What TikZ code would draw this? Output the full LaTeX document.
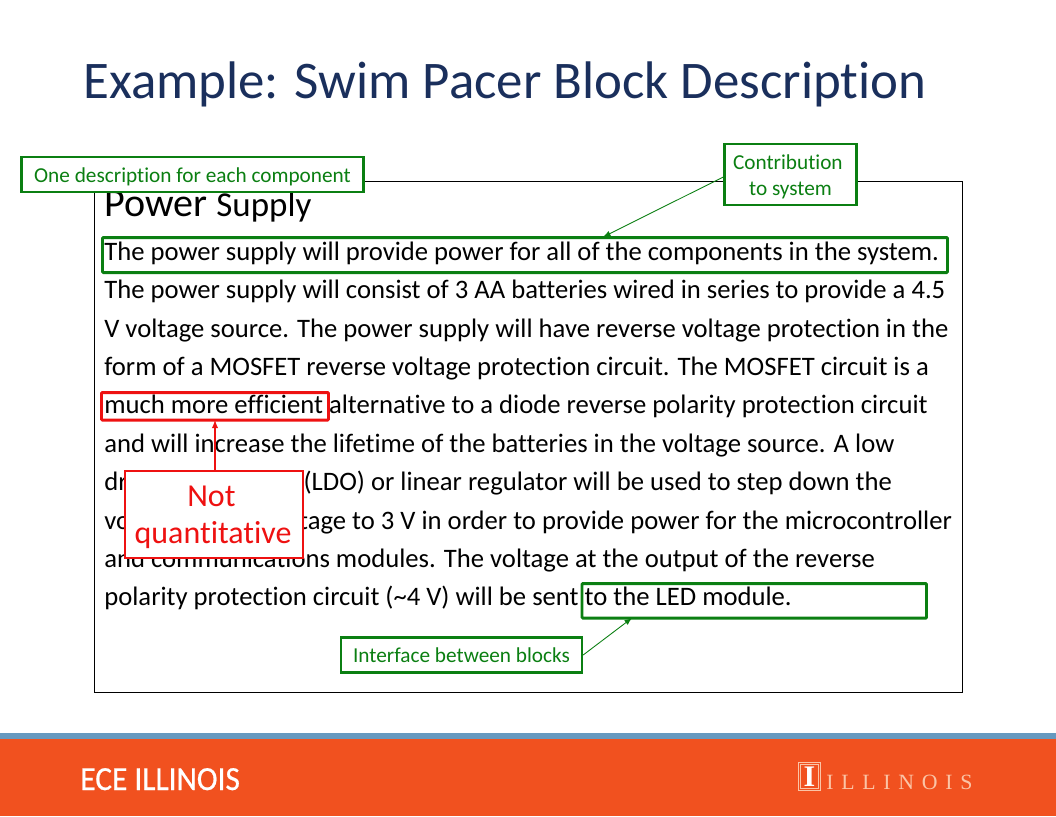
\documentclass[tikz,border=0pt]{standalone}
\usepackage{fontspec}
\usepackage{xcolor}
\setmainfont[Ligatures=CommonOff]{Carlito}
\newfontfamily\serifname[LetterSpace=35.5]{Liberation Serif}
\newfontfamily\serifmark{Liberation Serif}
\newfontfamily\logofont[FakeStretch=0.93,FakeBold=0.6]{Carlito}
\definecolor{titleblue}{HTML}{1A2F5C}
\definecolor{notegreen}{HTML}{0B7F12}
\definecolor{notered}{HTML}{EE1111}
\definecolor{barblue}{HTML}{6699BF}
\definecolor{barorange}{HTML}{F1511F}
\definecolor{markpeach}{HTML}{FBC4A6}
\newcommand{\nudgedown}[1]{\raisebox{-1.6pt}[\height][\depth]{#1}}
\tikzset{
  bodyline/.style={anchor=base west,inner sep=0pt,font=\fontsize{15.17}{18}\selectfont},
  greennote/.style={draw=notegreen,line width=1.3pt,fill=white,text=notegreen,inner sep=0pt,align=center,font=\fontsize{12.1}{14.8}\selectfont},
  rednote/.style={draw=notered,line width=1.3pt,fill=white,text=notered,inner sep=0pt,align=center,font=\fontsize{18.2}{21.3}\selectfont},
  greenmark/.style={draw=notegreen,line width=1.7pt,rounded corners=0.5pt},
  redmark/.style={draw=notered,line width=1.7pt,rounded corners=0.5pt},
}
\begin{document}
\begin{tikzpicture}[x=0.02cm,y=-0.02cm]
  \useasboundingbox (0,0) rectangle (1056,816);

  \fill[barblue] (0,733) rectangle (1056,739);
  \fill[barorange] (0,739) rectangle (1056,816);

  \node[anchor=base west,inner sep=0pt,text=titleblue,font=\fontsize{30.1}{34}\selectfont] (title) at (83,98) {Example: Swim Pacer Block Description};

  \draw[line width=0.6pt] (94.5,181.5) rectangle (962.5,692.5);

  \node[anchor=base west,inner sep=0pt] (heading) at (104,216) {\fontsize{22.8}{24}\selectfont Power \fontsize{19.9}{24}\selectfont Supply};

  \node[bodyline] (line1) at (104,260) {The power supply will provide power for all of the components in the system.};
  \node[bodyline] (line2) at (104,298) {The power supply will consist of 3 AA batteries wired in series to provide a 4.5};
  \node[bodyline] (line3) at (104,337) {V voltage source. The power supply will have reverse voltage protection in the};
  \node[bodyline] (line4) at (104,375) {form of a MOSFET reverse voltage protection circuit. The MOSFET circuit is a};
  \node[bodyline] (line5) at (104,413) {much more efficient alternative to a diode reverse polarity protection circuit};
  \node[bodyline] (line6) at (104,452) {and will increase the lifetime of the batteries in the voltage source. A low};
  \node[bodyline] (line7) at (104,490) {dropout regulator (LDO) or linear regulator will be used to step down the};
  \node[bodyline] (line8) at (104,529) {voltage source voltage to 3 V in order to provide power for the microcontroller};
  \node[bodyline] (line9) at (104,567) {and communications modules. The voltage at the output of the reverse};
  \node[bodyline] (line10) at (104,605) {polarity protection circuit (\textasciitilde 4 V) will be sent to the LED module.};

  \draw[greenmark] (102.5,237.5) rectangle (947.5,272.5);
  \draw[redmark] (101.5,392.5) rectangle (328.5,420);
  \draw[greenmark] (582,583.5) rectangle (926.5,618);
  \coordinate (supplymark) at (603,237);
  \coordinate (effmark) at (215,420);
  \coordinate (ledmark) at (632,618);

  \node[greennote,minimum width=342pt*0.5693,minimum height=35pt*0.5693] (onedesc) at (192.5,174.5) {\nudgedown{One description for each component}};
  \node[greennote,minimum width=132pt*0.5693,minimum height=61pt*0.5693] (contrib) at (790.5,174.5) {\nudgedown{Contribution\kern3pt}\\\nudgedown{to system}};
  \node[greennote,minimum width=241pt*0.5693,minimum height=35pt*0.5693] (iface) at (461.5,655) {Interface between blocks};
  \node[rednote,minimum width=178pt*0.5693,minimum height=87pt*0.5693] (notq) at (214,514.5) {\nudgedown{Not\kern3pt}\\\nudgedown{quantitative\kern1pt}};

  \draw[-latex,notegreen,line width=0.5pt] (contrib.west) ++(0,2.5) -- (supplymark);
  \draw[-latex,notegreen,line width=0.5pt] (iface.east) -- (ledmark);
  \draw[-latex,notered,line width=0.6pt] (effmark |- notq.north) -- (effmark);

  \node[anchor=base west,inner sep=0pt,text=white,font=\logofont\fontsize{19.2}{20}\selectfont] (ece) at (80,790) {ECE ILLINOIS};

  \draw[markpeach,line width=0.5pt] (798.5,762.5) rectangle (820.5,790.5);
  \draw[markpeach,line width=0.5pt] (800.5,764.5) rectangle (818.5,788.5);
  \node[inner sep=0pt,text=white,font=\serifmark\fontsize{17}{17}\selectfont\bfseries] (seal) at (809.5,776.5) {I};
  \node[anchor=base west,inner sep=0pt,text=markpeach,font=\serifname\fontsize{12.4}{14}\selectfont] (uiname) at (826,789.5) {ILLINOIS};
\end{tikzpicture}
\end{document}
